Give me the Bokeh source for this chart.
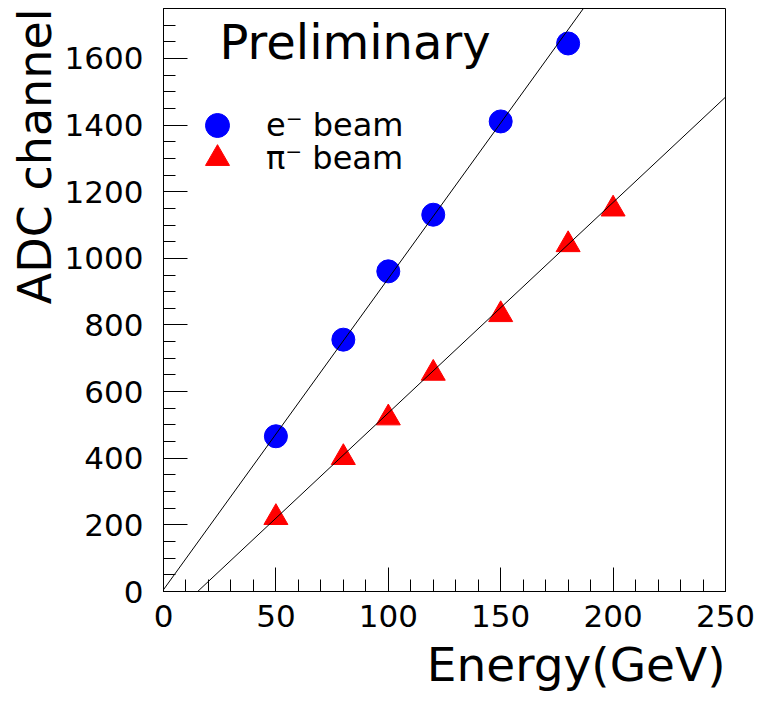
from bokeh.plotting import figure
from bokeh.models import (Range1d, SingleIntervalTicker, Slope, Label, Legend,
                          LegendItem, Title)
from bokeh.embed import file_html
from bokeh.resources import INLINE

# ---- data ----
energy_e = [50, 80, 100, 120, 150, 180]
adc_e = [466, 756, 961, 1131, 1411, 1645]
energy_pi = [50, 80, 100, 120, 150, 180, 200]
adc_pi = [222, 402, 521, 655, 831, 1041, 1148]

fit_e_slope, fit_e_intercept = 9.34, 5.5
fit_pi_slope, fit_pi_intercept = 6.32, -96.0

x_title = "Energy(GeV)"
y_title = "ADC channel"
note = "Preliminary"
label_e = "e\u207b beam"
label_pi = "\u03c0\u207b beam"

FONT = "DejaVu Sans"

p = figure(frame_width=562, frame_height=583,
           min_border_left=163, min_border_right=37,
           min_border_top=8, min_border_bottom=112,
           x_range=Range1d(0, 250), y_range=Range1d(0, 1750),
           output_backend="svg", toolbar_location=None,
           background_fill_color="white", border_fill_color="white")

p.grid.visible = False
p.outline_line_color = "black"
p.outline_line_width = 1

p.xaxis.ticker = SingleIntervalTicker(interval=50, num_minor_ticks=5)
p.yaxis.ticker = SingleIntervalTicker(interval=200, num_minor_ticks=4)

for ax in (p.xaxis[0], p.yaxis[0]):
    ax.major_tick_in = 24
    ax.major_tick_out = 0
    ax.minor_tick_in = 12
    ax.minor_tick_out = 0
    ax.axis_line_color = "black"
    ax.major_tick_line_color = "black"
    ax.minor_tick_line_color = "black"
    ax.major_label_text_font = FONT
    ax.major_label_text_font_size = "31px"
    ax.major_label_text_color = "black"

p.xaxis.major_label_standoff = 13
p.yaxis.major_label_standoff = 20

# axis titles, aligned to the high end of each axis
p.add_layout(Title(text=x_title, align="right", text_font=FONT,
                   text_font_size="47px", text_font_style="normal",
                   text_color="black"), "below")
p.add_layout(Title(text=y_title, align="right", text_font=FONT,
                   text_font_size="46px", text_font_style="normal",
                   text_color="black", standoff=0), "left")

# fit lines
p.add_layout(Slope(gradient=fit_e_slope, y_intercept=fit_e_intercept,
                   line_color="black", line_width=1))
p.add_layout(Slope(gradient=fit_pi_slope, y_intercept=fit_pi_intercept,
                   line_color="black", line_width=1))

r_e = p.scatter(energy_e, adc_e, marker="circle", size=23,
                fill_color="#0000ff", line_color="#0000ff")
r_pi = p.scatter(energy_pi, adc_pi, marker="triangle", size=24,
                 fill_color="#ff0000", line_color="#ff0000")

def make_legend(label, renderer, loc):
    return Legend(items=[LegendItem(label=label, renderers=[renderer])],
                  location=loc, padding=0, spacing=0,
                  glyph_width=60, glyph_height=60, label_standoff=19,
                  label_text_font=FONT, label_text_font_size="32px",
                  label_text_color="black",
                  background_fill_alpha=0, border_line_alpha=0, margin=0)

p.add_layout(make_legend(label_e, r_e, (24, 436)), "center")
p.add_layout(make_legend(label_pi, r_pi, (24, 403)), "center")

p.add_layout(Label(x=0, y=1750, x_offset=56, y_offset=-33, text=note,
                   text_align="left", text_baseline="alphabetic",
                   text_font=FONT, text_font_size="48px", text_color="black"))

open("out.html", "w").write(file_html(p, INLINE))
